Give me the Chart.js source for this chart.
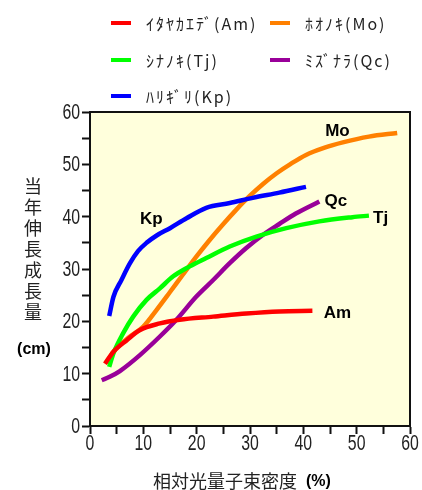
<!DOCTYPE html>
<html>
<head>
<meta charset="utf-8">
<script src="https://cdn.jsdelivr.net/npm/chart.js@4.4.1/dist/chart.umd.min.js"></script>
<style>
  html, body { margin: 0; padding: 0; background: #fff; }
  #wrap { position: relative; width: 422px; height: 490px; }
  #c { position: absolute; left: 0; top: 0; }
  .lg { position: absolute; font-family: "Noto Sans CJK JP", sans-serif; font-size: 16px; color: #222; letter-spacing: 2px; line-height: 18px; white-space: nowrap; }
  .lg span.sw { position: absolute; left: -35px; top: 7px; width: 20px; height: 4px; }
</style>
</head>
<body>
<div id="wrap">
  <canvas id="c" width="422" height="490"></canvas>
  <div id="legend"></div>
</div>
<script>
// Relative photon flux density (%) vs. current-year shoot growth (cm)
const names  = ['ｲﾀﾔｶｴﾃﾞ(Am)', 'ｼﾅﾉｷ(Tj)', 'ﾊﾘｷﾞﾘ(Kp)', 'ﾎｵﾉｷ(Mo)', 'ﾐｽﾞﾅﾗ(Qc)'];
const codes  = ['Am', 'Tj', 'Kp', 'Mo', 'Qc'];
const colors = ['#ff0000', '#00ff00', '#0000ff', '#ff8000', '#990099'];

const amX = [2.8, 4.4, 6.9, 9.3, 13.1, 16.8, 23.1, 29.3, 35.5, 41.7];
const amY = [11.9, 14.2, 16.4, 18.3, 19.6, 20.3, 20.9, 21.5, 21.9, 22.0];

const tjX = [3.6, 4.4, 6.2, 8.1, 10.6, 13.1, 15.6, 18.7, 21.8, 26.2, 31.2, 36.8, 43.0, 49.2, 52.3];
const tjY = [11.3, 13.9, 17.7, 20.9, 24.1, 26.3, 28.6, 30.5, 32.1, 34.3, 36.2, 37.8, 39.1, 39.9, 40.2];

const kpX = [3.6, 4.4, 5.9, 7.5, 9.0, 10.6, 12.5, 15.0, 18.1, 21.8, 26.2, 30.5, 35.5, 40.5];
const kpY = [21.0, 24.7, 27.9, 31.1, 33.4, 35.0, 36.4, 37.8, 39.7, 41.7, 42.6, 43.6, 44.6, 45.7];

const moX = [3.1, 4.4, 7.5, 10.0, 12.5, 15.0, 17.4, 19.9, 22.4, 25.0, 27.4, 30.0, 32.5, 35.0, 37.5, 40.5, 44.0, 47.4, 52.3, 57.6];
const moY = [11.9, 14.2, 17.1, 19.0, 22.2, 25.6, 28.9, 32.3, 35.5, 38.6, 41.3, 44.0, 46.3, 48.3, 50.0, 51.8, 53.2, 54.2, 55.3, 56.0];

const qcX = [2.2, 3.7, 5.6, 9.3, 13.1, 16.2, 19.9, 23.1, 26.2, 29.3, 32.4, 35.5, 38.6, 43.0];
const qcY = [8.75, 9.4, 10.5, 13.5, 17.1, 20.3, 24.7, 27.9, 31.1, 34.0, 36.5, 38.6, 40.6, 42.9];

// in-plot series tags, placed in data coordinates
const tagX = [46.4, 54.5, 11.5, 46.4, 46.1];
const tagY = [21.5, 39.7, 39.4, 56.4, 42.9];

const xTicksLabelled = [0, 10, 20, 30, 40, 50, 60];
const yTicksLabelled = [0, 10, 20, 30, 40, 50, 60];

const seriesX = [amX, tjX, kpX, moX, qcX];
const seriesY = [amY, tjY, kpY, moY, qcY];

const datasets = seriesX.map((xs, i) => ({
  label: names[i],
  data: xs.map((x, j) => ({ x: x, y: seriesY[i][j] })),
  borderColor: colors[i],
  backgroundColor: colors[i],
  borderWidth: 4.5,
  pointRadius: 0,
  cubicInterpolationMode: 'monotone',
  fill: false
}));

const plotBg = {
  id: 'plotBg',
  beforeDatasetsDraw(chart) {
    const a = chart.chartArea, ctx = chart.ctx;
    ctx.save();
    ctx.fillStyle = '#ffffdc';
    ctx.fillRect(a.left, a.top, a.right - a.left, a.bottom - a.top);
    ctx.restore();
  },
  afterDraw(chart) {
    const a = chart.chartArea, ctx = chart.ctx;
    const xs = chart.scales.x, ys = chart.scales.y;
    ctx.save();
    ctx.strokeStyle = '#111';
    ctx.lineWidth = 2;
    ctx.strokeRect(a.left, a.top, a.right - a.left, a.bottom - a.top);

    // tick numbers, in a tall condensed face
    ctx.fillStyle = '#222';
    ctx.font = '22px "Liberation Sans", Arial, sans-serif';
    ctx.textBaseline = 'middle';
    const sx = 0.72;
    yTicksLabelled.forEach(v => {
      const py = ys.getPixelForValue(v);
      ctx.save();
      ctx.translate(80, py);
      ctx.scale(sx, 1);
      ctx.textAlign = 'right';
      ctx.fillText(String(v), 0, 1);
      ctx.restore();
    });
    xTicksLabelled.forEach(v => {
      const px = xs.getPixelForValue(v);
      ctx.save();
      ctx.translate(px, 444);
      ctx.scale(sx, 1);
      ctx.textAlign = 'center';
      ctx.fillText(String(v), 0, 0);
      ctx.restore();
    });

    // series tags
    ctx.fillStyle = '#000';
    ctx.font = 'bold 17px "Liberation Sans", Arial, sans-serif';
    ctx.textAlign = 'center';
    ctx.textBaseline = 'middle';
    codes.forEach((c, i) => {
      ctx.fillText(c, xs.getPixelForValue(tagX[i]), ys.getPixelForValue(tagY[i]));
    });
    // y axis title, vertical
    ctx.fillStyle = '#222';
    ctx.font = '18px "Noto Sans CJK JP", sans-serif';
    const yt = '当年伸長成長量';
    for (let k = 0; k < yt.length; k++) {
      ctx.fillText(yt[k], 33, 186 + k * 21);
    }
    ctx.fillStyle = '#000';
    ctx.font = 'bold 16px "Liberation Sans", Arial, sans-serif';
    ctx.fillText('(cm)', 34, 350);
    // x axis title
    ctx.textAlign = 'left';
    ctx.fillStyle = '#222';
    ctx.font = '18px "Noto Sans CJK JP", sans-serif';
    const xt = '相対光量子束密度';
    const w = ctx.measureText(xt).width;
    ctx.fillText(xt, 153, 481);
    ctx.fillStyle = '#000';
    ctx.font = 'bold 16px "Liberation Sans", Arial, sans-serif';
    ctx.fillText('(%)', 153 + w + 9, 482);
    ctx.restore();
  }
};

new Chart(document.getElementById('c'), {
  type: 'line',
  data: { datasets: datasets },
  options: {
    responsive: false,
    animation: false,
    layout: { padding: { top: 112, right: 12, left: 0, bottom: 0 } },
    plugins: { legend: { display: false }, tooltip: { enabled: false } },
    scales: {
      x: {
        type: 'linear', min: 0, max: 60,
        ticks: { stepSize: 5, maxRotation: 0, callback: () => '' },
        grid: { drawOnChartArea: false, color: '#111', tickLength: 8, tickWidth: 2 },
        border: { color: '#111', width: 2 },
        afterFit(s) { s.height = 64; }
      },
      y: {
        min: 0, max: 60,
        ticks: { stepSize: 5, callback: () => '' },
        grid: { drawOnChartArea: false, color: '#111', tickLength: 8, tickWidth: 2 },
        border: { color: '#111', width: 2 },
        afterFit(s) { s.width = 90; }
      }
    }
  },
  plugins: [plotBg]
});

// legend: two columns, filled top to bottom
const legendPos = [[146, 14], [146, 51], [146, 87], [305, 14], [305, 51]];
const lg = document.getElementById('legend');
names.forEach((n, i) => {
  const d = document.createElement('div');
  d.className = 'lg';
  d.style.left = legendPos[i][0] + 'px';
  d.style.top = legendPos[i][1] + 'px';
  d.innerHTML = '<span class="sw" style="background:' + colors[i] + '"></span>' + n;
  lg.appendChild(d);
});
</script>
</body>
</html>
